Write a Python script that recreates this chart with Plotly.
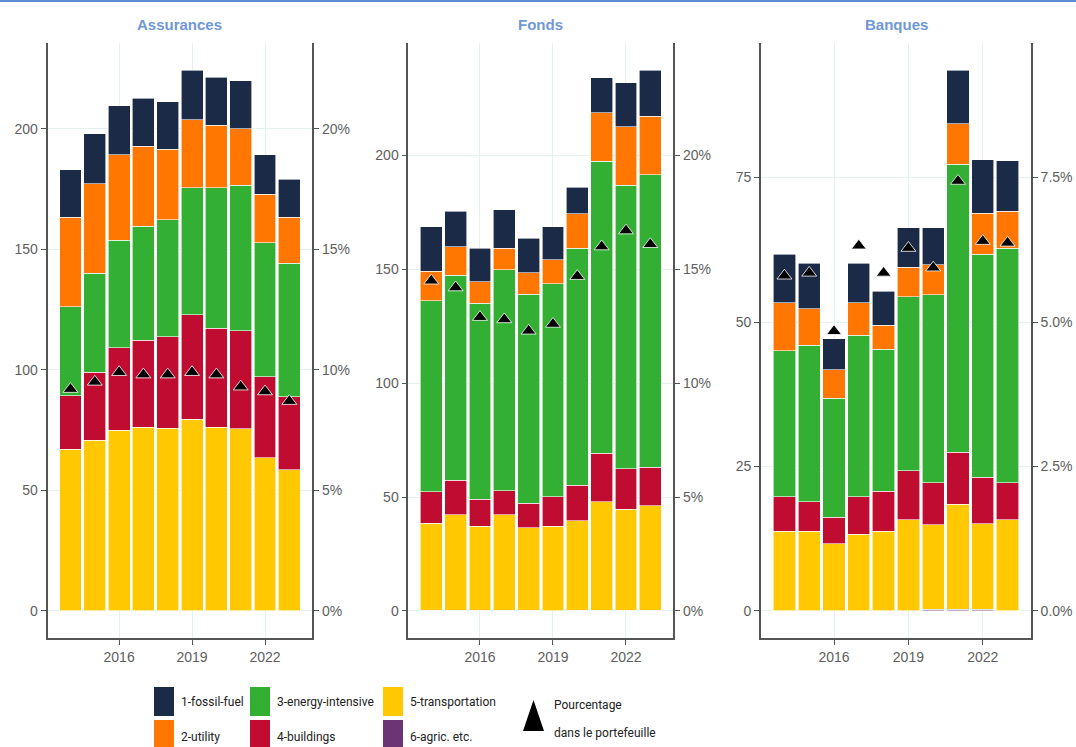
import plotly.graph_objects as go

W, H = 1076, 747

years = list(range(2014, 2024))
panel_titles = ["Assurances", "Fonds", "Banques"]
sector_names = ["6-agric. etc.", "5-transportation", "4-buildings",
                "3-energy-intensive", "2-utility", "1-fossil-fuel"]
sector_colors = ["#6B3574", "#FFC800", "#C00C30", "#33B034", "#FF7700", "#1B2A47"]

# ---- Assurances ----
assur_fossil = [19.8, 20.6, 20.3, 19.9, 19.7, 20.6, 19.8, 19.8, 16.3, 15.9]
assur_utility = [37.1, 37.2, 35.3, 33.2, 29.2, 28.2, 26.0, 23.4, 20.2, 19.1]
assur_energy = [36.8, 41.0, 44.7, 47.2, 48.4, 52.6, 58.2, 60.5, 55.5, 55.3]
assur_buildings = [22.2, 28.2, 34.1, 36.2, 38.1, 43.5, 41.2, 40.6, 33.7, 30.2]
assur_transport = [67.1, 70.8, 75.0, 76.1, 75.7, 79.4, 76.1, 75.5, 63.5, 58.6]
assur_agric = [0, 0, 0, 0, 0, 0, 0, 0, 0, 0]
assur_pct = [9.2, 9.5, 9.9, 9.8, 9.8, 9.9, 9.8, 9.3, 9.1, 8.7]

# ---- Fonds ----
fonds_fossil = [19.6, 15.6, 14.7, 16.8, 15.1, 14.5, 11.6, 15.3, 19.2, 20.2]
fonds_utility = [13.1, 12.5, 9.5, 9.5, 9.5, 10.7, 15.2, 21.3, 25.7, 25.8]
fonds_energy = [83.7, 89.9, 86.0, 97.0, 91.8, 93.4, 104.0, 128.2, 124.5, 128.4]
fonds_buildings = [13.9, 15.2, 11.9, 10.5, 10.7, 13.0, 15.8, 21.4, 17.8, 17.0]
fonds_transport = [38.1, 41.9, 36.8, 41.9, 36.2, 37.2, 39.1, 47.5, 44.3, 45.7]
fonds_agric = [0.4, 0.4, 0.4, 0.4, 0.4, 0.0, 0.4, 0.4, 0.4, 0.4]
fonds_pct = [14.5, 14.2, 12.9, 12.8, 12.3, 12.6, 14.7, 16.0, 16.7, 16.1]

# ---- Banques ----
banq_fossil = [8.4, 7.9, 5.4, 6.9, 5.9, 6.8, 6.4, 9.3, 9.3, 8.7]
banq_utility = [8.3, 6.3, 4.9, 5.6, 4.1, 5.1, 5.2, 7.0, 7.1, 6.4]
banq_energy = [25.2, 27.1, 20.6, 27.9, 24.6, 30.1, 32.5, 49.8, 38.6, 40.6]
banq_buildings = [6.0, 5.1, 4.6, 6.5, 6.9, 8.5, 7.3, 9.0, 8.0, 6.4]
banq_transport = [13.8, 13.8, 11.6, 13.3, 13.8, 15.8, 14.6, 18.2, 14.8, 15.8]
banq_agric = [0, 0, 0, 0, 0, 0, 0.3, 0.3, 0.3, 0]
banq_pct = [5.8, 5.85, 4.84, 6.32, 5.85, 6.28, 5.94, 7.44, 6.40, 6.37]

panels_data = [
    [assur_agric, assur_transport, assur_buildings, assur_energy, assur_utility, assur_fossil],
    [fonds_agric, fonds_transport, fonds_buildings, fonds_energy, fonds_utility, fonds_fossil],
    [banq_agric, banq_transport, banq_buildings, banq_energy, banq_utility, banq_fossil],
]
panels_pct = [assur_pct, fonds_pct, banq_pct]
left_dticks = [50, 50, 25]
right_dticks = [0.05, 0.05, 0.025]
right_formats = [".0%", ".0%", ".1%"]

# panel pixel boxes (left, right)
panel_x_px = [(47.5, 312.3), (408.3, 673.3), (761.0, 1031.0)]
top_px, bottom_px = 43.0, 638.0


def px(x):
    return x / W


def py(y):
    return 1 - y / H


FONT = "Liberation Sans, Arial, sans-serif"
LEGFONT = "Roboto, Liberation Sans, Arial, sans-serif"
GRID = "#E4F1F1"
AXIS = "#555555"
TICKTXT = "#5E5E5E"

fig = go.Figure()
layout = dict(
    width=W, height=H,
    margin=dict(l=0, r=0, t=0, b=0),
    paper_bgcolor="white", plot_bgcolor="white",
    barmode="stack", bargap=0.1,
    showlegend=False,
    font=dict(family=FONT, size=14, color=TICKTXT),
)

annotations = []
shapes = []

for i in range(3):
    xa = "x" if i == 0 else f"x{i + 1}"
    yl = "y" if i == 0 else f"y{2 * i + 1}"
    yr = f"y{2 * i + 2}"
    data = panels_data[i]
    totals = [sum(v) for v in zip(*data)]
    ymax = max(max(totals), max(p * 10 for p in panels_pct[i]))
    lo, hi = -0.05 * ymax, 1.05 * ymax

    for name, col, vals in zip(sector_names, sector_colors, data):
        fig.add_trace(go.Bar(
            x=years, y=vals, name=name, width=0.9,
            marker=dict(color=col, line=dict(color="white", width=0.6)),
            xaxis=xa, yaxis=yl,
        ))
    fig.add_trace(go.Scatter(
        x=years, y=[p / 100 for p in panels_pct[i]], mode="markers",
        name="Pourcentage dans le portefeuille",
        marker=dict(symbol="triangle-up", size=13, color="black",
                    line=dict(color="white", width=0.8)),
        xaxis=xa, yaxis=yr,
    ))

    xl, xr = panel_x_px[i]
    xkey = "xaxis" if i == 0 else f"xaxis{i + 1}"
    ylkey = "yaxis" if i == 0 else f"yaxis{2 * i + 1}"
    yrkey = f"yaxis{2 * i + 2}"
    layout[xkey] = dict(
        domain=[px(xl), px(xr)], anchor=yl,
        range=[2013.055, 2023.945], tickvals=[2016, 2019, 2022],
        showgrid=True, gridcolor=GRID, gridwidth=1, zeroline=False,
        showline=True, linecolor=AXIS, linewidth=1.6,
        ticks="outside", ticklen=5, tickcolor=AXIS, tickwidth=1,
        tickfont=dict(family=FONT, size=14, color=TICKTXT),
    )
    layout[ylkey] = dict(
        domain=[py(bottom_px), py(top_px)], anchor=xa,
        range=[lo, hi], dtick=left_dticks[i], tick0=0,
        showgrid=True, gridcolor=GRID, gridwidth=1, zeroline=False,
        showline=True, linecolor=AXIS, linewidth=1.6,
        ticks="outside", ticklen=5, tickcolor=AXIS, tickwidth=1,
        tickfont=dict(family=FONT, size=14, color=TICKTXT),
    )
    layout[yrkey] = dict(
        overlaying=yl, side="right", anchor=xa,
        range=[lo / 1000, hi / 1000], dtick=right_dticks[i], tick0=0,
        tickformat=right_formats[i],
        showgrid=False, zeroline=False,
        showline=True, linecolor=AXIS, linewidth=1.6,
        ticks="outside", ticklen=5, tickcolor=AXIS, tickwidth=1,
        tickfont=dict(family=FONT, size=14, color=TICKTXT),
    )
    annotations.append(dict(
        text=f"<b>{panel_titles[i]}</b>", xref="paper", yref="paper",
        x=px((xl + xr) / 2), y=py(25), xanchor="center", yanchor="middle",
        showarrow=False, font=dict(family=FONT, size=15, color="#7097D6"),
    ))

# ---- manual legend ----
legend_cols = [
    (154, ["1-fossil-fuel", "2-utility"], ["#1B2A47", "#FF7700"]),
    (250, ["3-energy-intensive", "4-buildings"], ["#33B034", "#C00C30"]),
    (383, ["5-transportation", "6-agric. etc."], ["#FFC800", "#6B3574"]),
]
rows = [(687, 716, 702), (720, 750, 737)]
for x0, labels, cols in legend_cols:
    for (r0, r1, rc), lab, col in zip(rows, labels, cols):
        shapes.append(dict(type="rect", xref="paper", yref="paper",
                           x0=px(x0), x1=px(x0 + 20), y0=py(r1), y1=py(r0),
                           fillcolor=col, line=dict(width=0)))
        annotations.append(dict(text=lab, xref="paper", yref="paper",
                                x=px(x0 + 25), y=py(rc), xanchor="left", yanchor="middle",
                                showarrow=False,
                                font=dict(family=LEGFONT, size=12, color="#222222")))

shapes.append(dict(type="path", xref="paper", yref="paper",
                   path=f"M {px(523)} {py(731)} L {px(544)} {py(731)} L {px(533.5)} {py(700)} Z",
                   fillcolor="black", line=dict(width=0)))
annotations.append(dict(text="Pourcentage", xref="paper", yref="paper",
                        x=px(552), y=py(705), xanchor="left", yanchor="middle", showarrow=False,
                        font=dict(family=LEGFONT, size=12, color="#222222")))
annotations.append(dict(text="dans le portefeuille", xref="paper", yref="paper",
                        x=px(552), y=py(733), xanchor="left", yanchor="middle", showarrow=False,
                        font=dict(family=LEGFONT, size=12, color="#222222")))

# top border line
shapes.append(dict(type="rect", xref="paper", yref="paper",
                   x0=0, x1=1, y0=py(2), y1=1, fillcolor="#5E8DD2", line=dict(width=0)))

layout["annotations"] = annotations
layout["shapes"] = shapes
fig.update_layout(**layout)

fig.write_html("out.html", config={"displayModeBar": False},
               post_script="document.body.style.margin='0';")
